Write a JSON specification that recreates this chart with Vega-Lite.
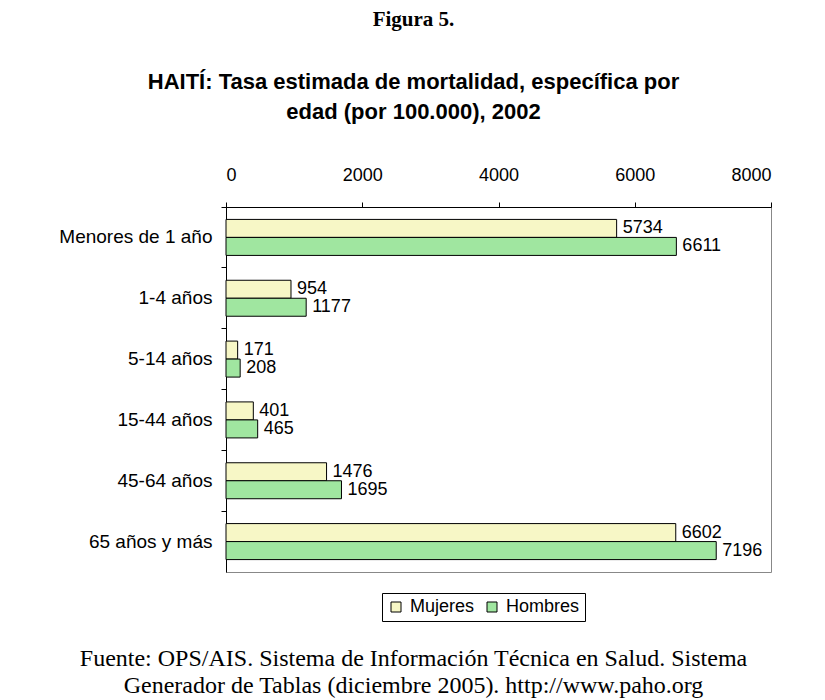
{
  "$schema": "https://vega.github.io/schema/vega-lite/v6.json",
  "width": 545,
  "height": 365,
  "autosize": {"type": "none"},
  "padding": {"left": 226, "top": 207, "right": 54, "bottom": 128},
  "background": "white",
  "title": {
    "text": "Figura 5.",
    "subtitle": ["HAITÍ: Tasa estimada de mortalidad, específica por", "edad (por 100.000), 2002"],
    "anchor": "middle",
    "frame": "group",
    "dx": -85,
    "offset": 43,
    "font": "Liberation Serif",
    "fontSize": 21,
    "fontWeight": "bold",
    "color": "black",
    "subtitleFont": "Liberation Sans",
    "subtitleFontSize": 22,
    "subtitleFontWeight": "bold",
    "subtitleColor": "black",
    "subtitlePadding": 42,
    "subtitleLineHeight": 30
  },
  "data": {
    "values": [
      {"grupo": "Menores de 1 año", "sexo": "Mujeres", "valor": 5734},
      {"grupo": "Menores de 1 año", "sexo": "Hombres", "valor": 6611},
      {"grupo": "1-4 años", "sexo": "Mujeres", "valor": 954},
      {"grupo": "1-4 años", "sexo": "Hombres", "valor": 1177},
      {"grupo": "5-14 años", "sexo": "Mujeres", "valor": 171},
      {"grupo": "5-14 años", "sexo": "Hombres", "valor": 208},
      {"grupo": "15-44 años", "sexo": "Mujeres", "valor": 401},
      {"grupo": "15-44 años", "sexo": "Hombres", "valor": 465},
      {"grupo": "45-64 años", "sexo": "Mujeres", "valor": 1476},
      {"grupo": "45-64 años", "sexo": "Hombres", "valor": 1695},
      {"grupo": "65 años y más", "sexo": "Mujeres", "valor": 6602},
      {"grupo": "65 años y más", "sexo": "Hombres", "valor": 7196}
    ]
  },
  "encoding": {
    "y": {
      "field": "grupo",
      "type": "nominal",
      "sort": null,
      "scale": {"paddingInner": 0, "paddingOuter": 0},
      "axis": {
        "title": null,
        "bandPosition": 0,
        "domainColor": "black",
        "tickColor": "black",
        "tickSize": 5,
        "labelPadding": 9,
        "labelFont": "Liberation Sans",
        "labelFontSize": 19,
        "labelColor": "black"
      }
    },
    "yOffset": {
      "field": "sexo",
      "sort": ["Mujeres", "Hombres"],
      "scale": {"paddingInner": 0, "paddingOuter": 0.69}
    },
    "x": {
      "field": "valor",
      "type": "quantitative",
      "scale": {"domain": [0, 8000], "nice": false}
    }
  },
  "layer": [
    {
      "mark": {"type": "bar", "stroke": "black", "strokeWidth": 1},
      "encoding": {
        "x": {
          "field": "valor",
          "type": "quantitative",
          "scale": {"domain": [0, 8000], "nice": false},
          "axis": {
            "orient": "top",
            "title": null,
            "values": [0, 2000, 4000, 6000, 8000],
            "format": "d",
            "grid": false,
            "domainColor": "black",
            "tickColor": "black",
            "tickSize": 5,
            "labelPadding": 18,
            "labelFont": "Liberation Sans",
            "labelFontSize": 18,
            "labelColor": "black"
          }
        },
        "color": {
          "field": "sexo",
          "type": "nominal",
          "scale": {"domain": ["Mujeres", "Hombres"], "range": ["#F7F7C6", "#A0E6A0"]},
          "legend": {
            "title": null,
            "orient": "none",
            "direction": "horizontal",
            "legendX": 156,
            "legendY": 386,
            "strokeColor": "black",
            "fillColor": "white",
            "padding": 5,
            "symbolType": "square",
            "symbolSize": 100,
            "symbolStrokeColor": "black",
            "symbolStrokeWidth": 1,
            "labelFont": "Liberation Sans",
            "labelFontSize": 18,
            "labelColor": "black",
            "columnPadding": 8,
            "labelOffset": 5
          }
        }
      }
    },
    {
      "mark": {"type": "text", "align": "left", "baseline": "middle", "dx": 6, "font": "Liberation Sans", "fontSize": 18, "color": "black"},
      "encoding": {
        "text": {"field": "valor", "type": "quantitative", "format": "d"},
        "x": {
          "field": "valor",
          "type": "quantitative",
          "scale": {"domain": [0, 8000], "nice": false},
          "axis": {
            "orient": "bottom",
            "title": ["Fuente: OPS/AIS. Sistema de Información Técnica en Salud. Sistema", "Generador de Tablas (diciembre 2005).  http://www.paho.org"],
            "titleFont": "Liberation Serif",
            "titleFontSize": 24,
            "titleFontWeight": "normal",
            "titleColor": "black",
            "titleLineHeight": 27,
            "titlePadding": 74,
            "titleX": 187,
            "titleAnchor": "middle",
            "labels": false,
            "ticks": false,
            "domain": false,
            "grid": false
          }
        }
      }
    }
  ],
  "resolve": {"axis": {"x": "independent"}},
  "config": {
    "view": {"stroke": "#888888", "strokeWidth": 1}
  }
}
